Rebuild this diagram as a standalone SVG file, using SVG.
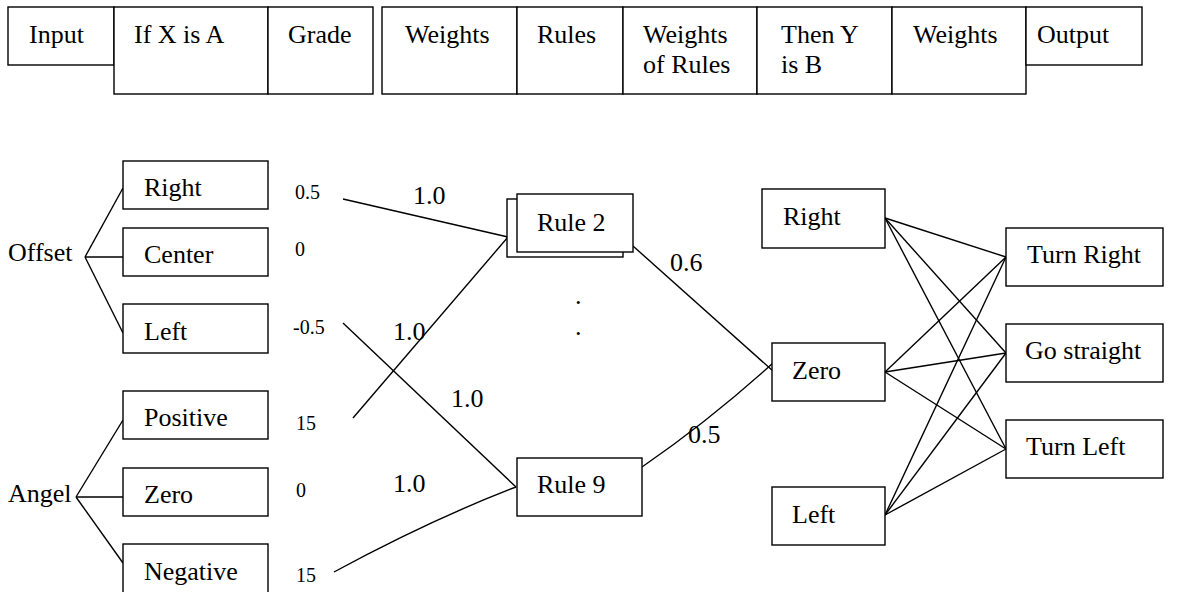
<svg xmlns="http://www.w3.org/2000/svg" width="1178" height="592" viewBox="0 0 1178 592">
<style>
.b{fill:#fff;stroke:#000;stroke-width:1.4}
.t{font-family:"Liberation Serif","Times New Roman",serif;font-size:26px;fill:#000}
.s{font-family:"Liberation Serif","Times New Roman",serif;font-size:20px;fill:#000}
.c line,.c path{stroke:#000;stroke-width:1.4;fill:none}
</style>
<rect width="1178" height="592" fill="#fff"/>
<g id="header">
<rect class="b" x="8" y="7" width="106" height="58"/>
<rect class="b" x="114" y="7" width="154" height="87"/>
<rect class="b" x="268" y="7" width="105" height="87"/>
<rect class="b" x="382" y="7" width="135" height="87"/>
<rect class="b" x="517" y="7" width="106" height="87"/>
<rect class="b" x="623" y="7" width="134" height="87"/>
<rect class="b" x="757" y="7" width="135" height="87"/>
<rect class="b" x="892" y="7" width="134" height="87"/>
<rect class="b" x="1026" y="7" width="116" height="58"/>
<text class="t" x="29" y="43">Input</text>
<text class="t" x="134" y="43">If X is A</text>
<text class="t" x="288" y="43">Grade</text>
<text class="t" x="405" y="43">Weights</text>
<text class="t" x="537" y="43">Rules</text>
<text class="t" x="643" y="43">Weights</text>
<text class="t" x="643" y="73">of Rules</text>
<text class="t" x="781" y="43">Then Y</text>
<text class="t" x="781" y="73">is B</text>
<text class="t" x="913" y="43">Weights</text>
<text class="t" x="1037" y="43">Output</text>
</g>
<g class="c" id="connectors">
<line x1="85" y1="257" x2="123" y2="188"/>
<line x1="85" y1="257" x2="123" y2="257"/>
<line x1="85" y1="257" x2="123" y2="333"/>
<line x1="76" y1="497" x2="123" y2="420"/>
<line x1="76" y1="497" x2="123" y2="497"/>
<line x1="76" y1="497" x2="123" y2="563"/>
<line x1="343" y1="199" x2="508" y2="237"/>
<line x1="353" y1="418" x2="508" y2="237"/>
<line x1="343" y1="323" x2="516" y2="487"/>
<path d="M334 572 Q430 520 516 487"/>
<line x1="633" y1="246" x2="773" y2="371"/>
<path d="M642 467 Q710 420 773 363"/>
<line x1="885" y1="218" x2="1006" y2="257"/>
<line x1="885" y1="218" x2="1006" y2="353"/>
<line x1="885" y1="218" x2="1006" y2="449"/>
<line x1="885" y1="372" x2="1006" y2="257"/>
<line x1="885" y1="372" x2="1006" y2="353"/>
<line x1="885" y1="372" x2="1006" y2="449"/>
<line x1="885" y1="515" x2="1006" y2="257"/>
<line x1="885" y1="515" x2="1006" y2="353"/>
<line x1="885" y1="515" x2="1006" y2="449"/>
</g>
<g id="offset"><text class="t" x="8" y="261">Offset</text></g>
<g id="angel"><text class="t" x="8" y="502">Angel</text></g>
<g id="in-right"><rect class="b" x="123" y="161" width="145" height="48"/><text class="t" x="144" y="196">Right</text></g>
<g id="in-center"><rect class="b" x="123" y="228" width="145" height="48"/><text class="t" x="144" y="263">Center</text></g>
<g id="in-left"><rect class="b" x="123" y="304" width="145" height="49"/><text class="t" x="144" y="340">Left</text></g>
<g id="in-positive"><rect class="b" x="123" y="391" width="145" height="48"/><text class="t" x="144" y="426">Positive</text></g>
<g id="in-zero"><rect class="b" x="123" y="468" width="145" height="48"/><text class="t" x="144" y="503">Zero</text></g>
<g id="in-negative"><rect class="b" x="123" y="544" width="145" height="60"/><text class="t" x="144" y="580">Negative</text></g>
<g id="grades">
<text class="s" x="295" y="199">0.5</text>
<text class="s" x="295" y="256">0</text>
<text class="s" x="293" y="334">-0.5</text>
<text class="s" x="296" y="430">15</text>
<text class="s" x="296" y="497">0</text>
<text class="s" x="296" y="582">15</text>
</g>
<g id="weights">
<text class="t" x="413" y="204">1.0</text>
<text class="t" x="393" y="340">1.0</text>
<text class="t" x="451" y="407">1.0</text>
<text class="t" x="393" y="492">1.0</text>
<text class="t" x="670" y="271">0.6</text>
<text class="t" x="688" y="443">0.5</text>
</g>
<g id="rule2">
<rect class="b" x="507" y="199" width="116" height="58"/>
<rect class="b" x="517" y="194" width="116" height="58"/>
<text class="t" x="537" y="231">Rule 2</text>
</g>
<g id="dots"><text class="t" x="575" y="304">.</text><text class="t" x="575" y="335">.</text></g>
<g id="rule9"><rect class="b" x="517" y="458" width="125" height="58"/><text class="t" x="537" y="493">Rule 9</text></g>
<g id="out-right"><rect class="b" x="762" y="189" width="123" height="59"/><text class="t" x="783" y="225">Right</text></g>
<g id="out-zero"><rect class="b" x="772" y="343" width="113" height="58"/><text class="t" x="792" y="379">Zero</text></g>
<g id="out-left"><rect class="b" x="772" y="487" width="113" height="58"/><text class="t" x="792" y="523">Left</text></g>
<g id="turn-right"><rect class="b" x="1006" y="228" width="157" height="58"/><text class="t" x="1027" y="263">Turn Right</text></g>
<g id="go-straight"><rect class="b" x="1006" y="324" width="157" height="58"/><text class="t" x="1025" y="359">Go straight</text></g>
<g id="turn-left"><rect class="b" x="1006" y="420" width="157" height="58"/><text class="t" x="1026" y="455">Turn Left</text></g>
</svg>
